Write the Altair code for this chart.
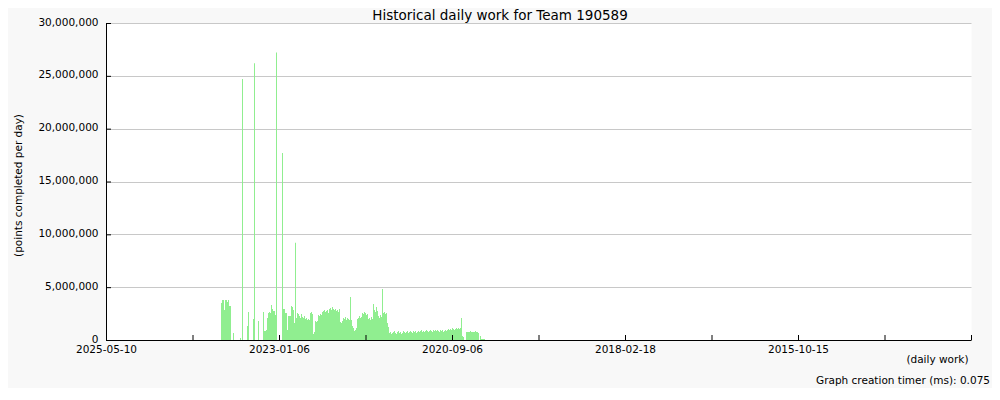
import altair as alt
import pandas as pd

# ---------------- data ----------------
title_text = "Historical daily work for Team 190589"
y_title = "(points completed per day)"
x_title = "(daily work)"
footer_text = "Graph creation timer (ms): 0.075"

# x axis: days before 2025-05-10 (the chart runs backwards in time)
major_tick_days = [0, 865, 1730, 2595, 3460, 4325]
tick_labels = ["2025-05-10", "2023-01-06", "2020-09-06", "2018-02-18", "2015-10-15", ""]
minor_tick_days = [432.5, 1297.5, 2162.5, 3027.5, 3892.5]
y_tick_values = [0, 5000000, 10000000, 15000000, 20000000, 25000000, 30000000]

first_bin = 115      # index of the first 5-day period shown
bin_days = 5

# points per 5-day period, in millions
points_m = [
    3.50, 3.78, 3.78, 2.84, 3.78, 3.78, 3.60, 3.78, 3.22, 3.22,   # 221-230
    0, 0, 0.66, 0, 0, 0, 0, 0, 0, 0.19,                           # 231-240
    0, 24.7, 0, 0, 0, 0, 1.32, 2.65, 0, 0,                        # 241-250
    0, 0, 1.99, 26.2, 0, 0, 0, 1.80, 0, 0,                        # 251-260
    0, 0, 2.65, 0.85, 0.85, 0.95, 2.08, 2.55, 2.65, 2.55,         # 261-270
    3.31, 2.93, 2.74, 2.74, 2.37, 27.2, 0, 0, 0, 0,               # 271-280
    0, 17.7, 2.93, 2.93, 2.55, 2.55, 0.95, 2.27, 2.27, 2.27,      # 281-290
    3.22, 3.12, 2.84, 1.61, 9.2, 2.08, 2.55, 2.46, 2.27, 2.08,    # 291-300
    2.46, 2.18, 2.08, 2.27, 1.99, 2.08, 1.89, 1.99, 1.89, 2.55,   # 301-310
    2.65, 2.46, 0.57, 0.76, 1.80, 1.70, 1.80, 2.37, 2.27, 2.46,   # 311-320
    2.37, 2.65, 2.74, 2.84, 2.65, 2.74, 2.84, 2.55, 2.93, 3.03,   # 321-330
    2.84, 3.12, 2.93, 2.84, 2.93, 2.74, 2.84, 2.65, 2.93, 1.70,   # 331-340
    1.61, 1.80, 2.08, 1.99, 2.18, 1.89, 2.08, 1.99, 1.89, 4.07,   # 341-350
    1.89, 1.32, 1.14, 0.85, 0.95, 1.14, 1.99, 2.08, 2.27, 2.08,   # 351-360
    2.18, 2.55, 2.46, 2.65, 2.55, 2.37, 2.46, 1.99, 2.08, 1.89,   # 361-370
    2.18, 1.99, 3.41, 2.84, 2.65, 3.12, 2.74, 2.27, 2.08, 2.37,   # 371-380
    2.18, 4.82, 2.55, 2.65, 2.46, 2.55, 1.61, 1.23, 0.66, 0.76,   # 381-390
    0.57, 0.66, 0.76, 0.85, 0.66, 0.57, 0.76, 0.85, 0.66, 0.76,   # 391-400
    0.57, 0.66, 0.85, 0.76, 0.66, 0.76, 0.85, 0.66, 0.76, 0.85,   # 401-410
    0.76, 0.66, 0.85, 0.76, 0.85, 0.66, 0.76, 0.85, 0.76, 0.85,   # 411-420
    0.95, 0.76, 0.85, 0.76, 0.85, 0.95, 0.85, 0.76, 0.85, 0.95,   # 421-430
    0.85, 0.76, 0.95, 0.85, 0.95, 0.85, 0.95, 0.85, 0.76, 0.95,   # 431-440
    0.85, 0.95, 0.76, 0.85, 0.95, 0.85, 0.95, 1.04, 0.95, 1.04,   # 441-450
    0.95, 1.14, 1.04, 0.95, 1.04, 1.14, 1.04, 1.14, 1.04, 1.14,   # 451-460
    2.08, 0.38, 0.28, 0, 0, 0.76, 0.76, 0.76, 0.76, 0.85,         # 461-470
    0.76, 0.76, 0.76, 0.76, 0.85, 0.76, 0.76, 0.66, 0, 0.38,      # 471-480
    0.09, 0.09, 0.09, 0.09,                                       # 481-484
]

days_ago = [(first_bin + i) * bin_days for i in range(len(points_m))]
df = pd.DataFrame({
    "days_ago": days_ago,
    "days_end": [d + bin_days for d in days_ago],
    "points": [v * 1e6 for v in points_m],
    "base": [0] * len(points_m),
})

x_ticks_df = pd.DataFrame({"days_ago": major_tick_days + minor_tick_days})
y_ticks_df = pd.DataFrame({"points": y_tick_values})
title_df = pd.DataFrame({"t": [title_text]})
footer_df = pd.DataFrame({"t": [footer_text]})

# ---------------- chart ----------------
W, H = 865, 317
FONT = "DejaVu Sans"

label_expr = ""
for d, lab in zip(major_tick_days, tick_labels):
    label_expr += f"datum.value == {d} ? '{lab}' : "
label_expr += "''"

x_scale = alt.Scale(domain=[0, 4325], nice=False, zero=False)
y_scale = alt.Scale(domain=[0, 30000000], nice=False)

x_axis = alt.Axis(values=major_tick_days, labelExpr=label_expr,
                  ticks=False, grid=False, domainColor="#000",
                  labelPadding=4, labelFontSize=10.5, labelColor="#000",
                  labelFlush=False, labelOverlap=False, zindex=1,
                  title=x_title, titleX=862, titleY=22,
                  titleAlign="right", titleBaseline="alphabetic",
                  titleFontSize=10.5, titleFontWeight="normal", titleColor="#000")
y_axis = alt.Axis(values=y_tick_values, labelExpr="format(datum.value, ',')",
                  ticks=False, grid=True, gridColor="#c8c8c8", domainColor="#000",
                  labelPadding=8, labelFontSize=10.5, labelColor="#000",
                  labelFlush=False, labelOverlap=False, labelOffset=-1,
                  title=y_title, titleX=-83, titleY=162,
                  titleFontSize=10.5, titleFontWeight="normal", titleColor="#000")

bars = alt.Chart(df).mark_rect(color="#90ee90").encode(
    x=alt.X("days_ago:Q", scale=x_scale, axis=x_axis),
    x2="days_end:Q",
    y=alt.Y("points:Q", scale=y_scale, axis=y_axis),
    y2="base:Q",
)

x_ticks = alt.Chart(x_ticks_df).mark_rule(color="#000", strokeWidth=1, xOffset=0.5).encode(
    x=alt.X("days_ago:Q", scale=x_scale, axis=x_axis),
    y=alt.value(H),
    y2=alt.value(H - 5),
)

y_ticks = alt.Chart(y_ticks_df).mark_rule(color="#000", strokeWidth=1, yOffset=0.5).encode(
    y=alt.Y("points:Q", scale=y_scale, axis=y_axis),
    x=alt.value(0),
    x2=alt.value(5),
)

title = alt.Chart(title_df).mark_text(
    align="center", baseline="alphabetic", font=FONT, fontSize=13.5, color="#000"
).encode(x=alt.value(394), y=alt.value(-3), text="t:N")

footer = alt.Chart(footer_df).mark_text(
    align="right", baseline="alphabetic", font=FONT, fontSize=10.5, color="#000"
).encode(x=alt.value(884), y=alt.value(361), text="t:N")

chart = alt.layer(bars, x_ticks, y_ticks, title, footer).properties(
    width=W, height=H,
    autosize=alt.AutoSizeParams(type="none"),
    padding={"left": 98, "top": 15, "right": 21, "bottom": 48},
).configure(
    background="#f8f8f8",
    font=FONT,
).configure_view(
    fill="#ffffff", stroke="transparent",
).configure_axis(
    labelFont=FONT, titleFont=FONT,
)

chart.save("out.html", embed_options={"renderer": "svg", "actions": False})
